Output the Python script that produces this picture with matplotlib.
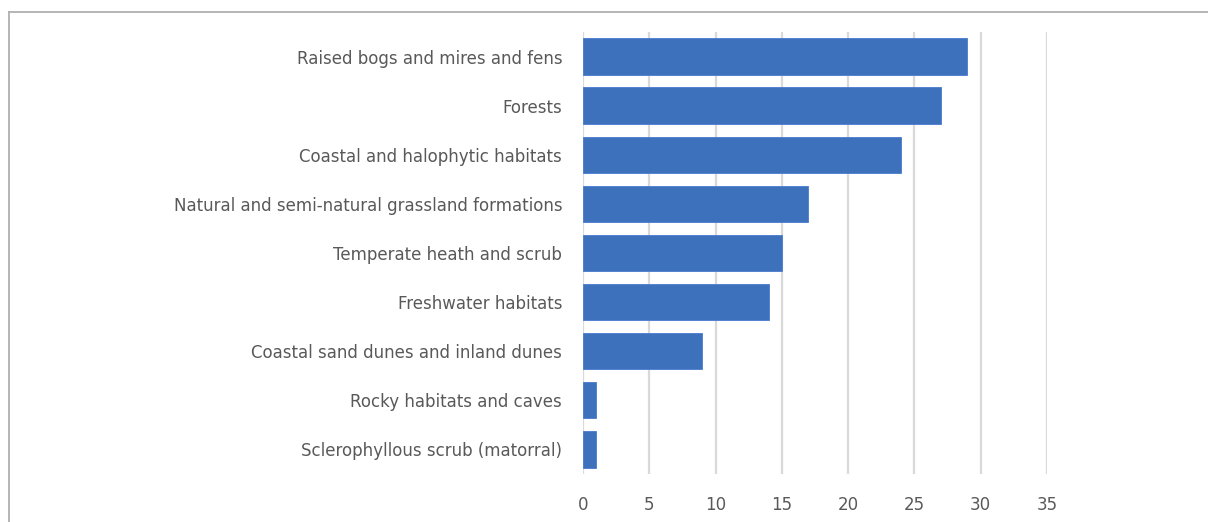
import matplotlib.pyplot as plt
from matplotlib.lines import Line2D

habitats = ['Raised bogs and mires and fens', 'Forests', 'Coastal and halophytic habitats',
            'Natural and semi-natural grassland formations', 'Temperate heath and scrub',
            'Freshwater habitats', 'Coastal sand dunes and inland dunes',
            'Rocky habitats and caves', 'Sclerophyllous scrub (matorral)']
counts = [29, 27, 24, 17, 15, 14, 9, 1, 1]

fig = plt.figure(figsize=(12.08, 5.22), dpi=100)
ax = fig.add_axes([0.4826, 0.092, 0.3841, 0.8467])

ypos = list(range(len(habitats)))[::-1]
ax.barh(ypos, counts, height=0.74, color='#3D71BC', edgecolor='#4A7BD0', linewidth=0.6, zorder=3)

ax.set_xlim(0, 35)
ax.set_ylim(-0.5, len(habitats) - 0.5)
ax.set_xticks(range(0, 36, 5))
ax.set_yticks(ypos)
ax.set_yticklabels(habitats)
ax.grid(axis='x', color='#D9D9D9', linewidth=1.6, zorder=0)
for s in ax.spines.values():
    s.set_visible(False)
ax.tick_params(axis='both', length=0, labelsize=12, labelcolor='#595959')
ax.tick_params(axis='x', pad=16)
ax.tick_params(axis='y', pad=15)

# chart frame (only top and left edges visible in the crop)
fig.add_artist(Line2D([9 / 1208, 1], [1 - 12 / 522] * 2, transform=fig.transFigure, color='#B0B0B0', lw=1.3))
fig.add_artist(Line2D([9 / 1208] * 2, [0, 1 - 12 / 522], transform=fig.transFigure, color='#B0B0B0', lw=1.3))

fig.savefig('out.png', dpi=100)
